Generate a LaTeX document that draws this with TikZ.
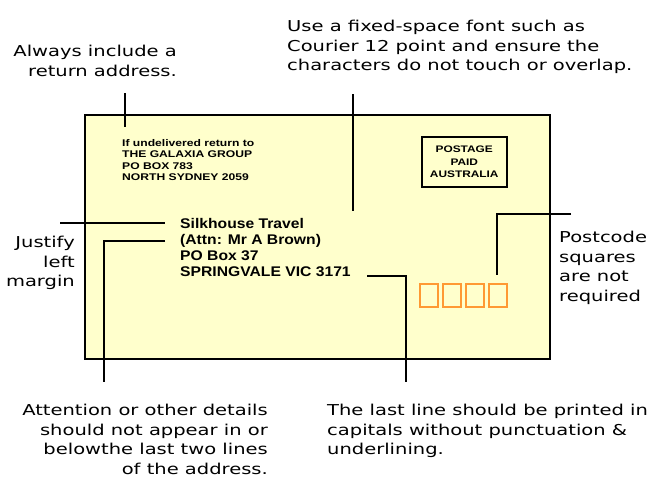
\documentclass[tikz,border=0pt]{standalone}
\usepackage{fontspec}
\newfontfamily\annotfont[FakeStretch=1.3]{DejaVu Sans}
\newfontfamily\boldsans[FakeStretch=1.12]{Liberation Sans Bold}
\newfontfamily\smallsans[FakeStretch=1.25]{Liberation Sans Bold}
\definecolor{envfill}{HTML}{FFFFCC}
\definecolor{sqorange}{HTML}{FF9933}
\begin{document}
\begin{tikzpicture}[x=1pt,y=-1pt,
  annot/.style={inner sep=0pt, font=\annotfont\fontsize{15}{19.5}\selectfont},
  addr/.style={inner sep=0pt, anchor=north west, align=left, font=\boldsans\fontsize{14}{16}\selectfont},
  small/.style={inner sep=0pt, font=\smallsans\fontsize{9.7}{11.5}\selectfont},
  leader/.style={line width=1.5pt, black},
  sq/.style={draw=sqorange, line width=1.8pt}]
\useasboundingbox (0,0) rectangle (653,477);
% envelope
\node[draw, line width=1.8pt, fill=envfill, minimum width=465pt, minimum height=244pt, anchor=north west, inner sep=0pt] (env) at (84,114) {};
% return address
\node[small, anchor=north west, align=left] (ret) at (122,139) {If undelivered return to\\THE GALAXIA GROUP\\PO BOX 783\\NORTH SYDNEY 2059};
% stamp
\node[draw, line width=1.5pt, minimum width=85pt, minimum height=50pt, anchor=north west, inner sep=0pt] (stamp) at (421,136) {};
\node[inner sep=0pt, align=center, font=\smallsans\fontsize{9.5}{12.5}\selectfont] (stamptext) at (stamp.center) {POSTAGE\\PAID\\AUSTRALIA};
% delivery address
\node[addr] (addr) at (180,218) {Silkhouse Travel\\(Attn: Mr A Brown)\\PO Box 37\\SPRINGVALE VIC 3171};
% postcode squares
\draw[sq] (420,284) rectangle (438,307);
\draw[sq] (443,284) rectangle (461,307);
\draw[sq] (466,284) rectangle (484,307);
\draw[sq] (489,284) rectangle (507,307);
% annotations
\node[annot, anchor=north east, align=right] (always) at (177,45) {Always include a\\return address.};
\node[annot, anchor=north west, align=left] (fixed) at (287,20) {Use a fixed-space font such as\\Courier 12 point and ensure the\\characters do not touch or overlap.};
\node[annot, anchor=north east, align=right] (justify) at (75,236) {Justify\\left\\margin};
\node[annot, anchor=north west, align=left] (postcode) at (559,231) {Postcode\\squares\\are not\\required};
\node[annot, anchor=north east, align=right] (attn) at (268,404) {Attention or other details\\should not appear in or\\belowthe last two lines\\of the address.};
\node[annot, anchor=north west, align=left] (lastline) at (327,404) {The last line should be printed in\\capitals without punctuation \&\\underlining.};
% leaders
\coordinate (retTop) at (125,93);
\coordinate (retBot) at (125,127);
\draw[leader] (retTop) -- (retBot);
\coordinate (fixTop) at (353,94);
\coordinate (fixBot) at (353,211);
\draw[leader] (fixTop) -- (fixBot);
\coordinate (jL) at (60,223);
\coordinate (jR) at (165,223);
\draw[leader] (jL) -- (jR);
\coordinate (aR) at (165,241);
\coordinate (aC) at (104,241);
\coordinate (aB) at (104,382);
\draw[leader] (aR) -- (aC) -- (aB);
\coordinate (lL) at (367,276);
\coordinate (lC) at (406,276);
\coordinate (lB) at (406,382);
\draw[leader] (lL) -- (lC) -- (lB);
\coordinate (pR) at (571,214);
\coordinate (pC) at (497,214);
\coordinate (pB) at (497,275);
\draw[leader] (pR) -- (pC) -- (pB);
\end{tikzpicture}
\end{document}
